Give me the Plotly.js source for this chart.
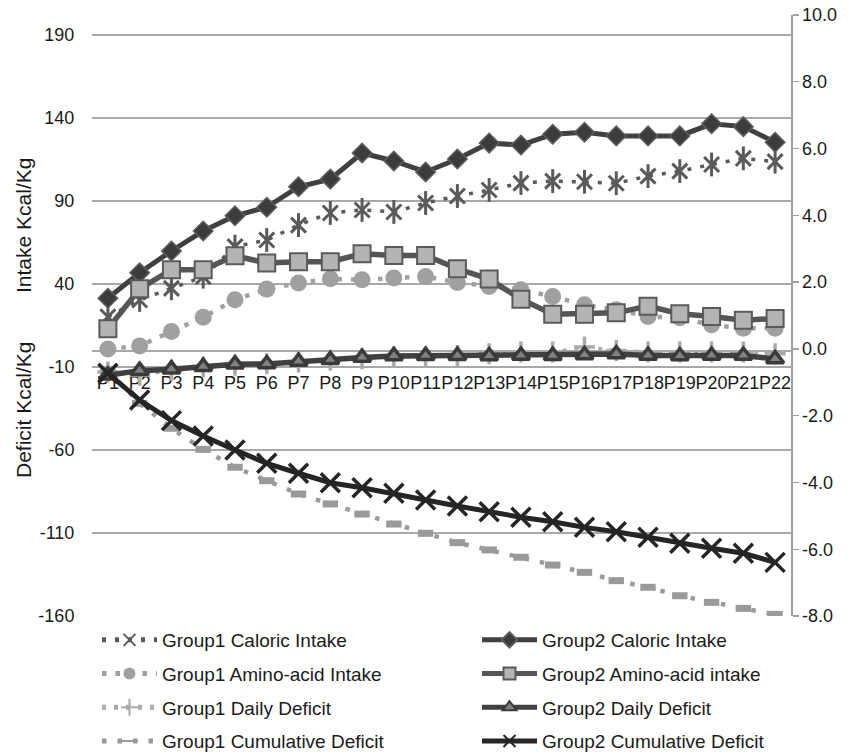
<!DOCTYPE html>
<html>
<head>
<meta charset="utf-8">
<script src="https://cdn.plot.ly/plotly-3.0.1.min.js"></script>
<style>
  html, body { margin: 0; padding: 0; background: #fff; }
  #chart { width: 856px; height: 756px; }
</style>
</head>
<body>
<div id="chart"></div>
<script>
const categories = ['P1','P2','P3','P4','P5','P6','P7','P8','P9','P10','P11','P12','P13','P14','P15','P16','P17','P18','P19','P20','P21','P22'];

// Intake (Kcal/Kg, left axis)
const g1Caloric = [20.3, 30.4, 37.4, 44.4, 62.5, 66.5, 75.5, 82.8, 84.6, 83.4, 88.8, 93.0, 96.6, 100.8, 102.0, 101.6, 100.7, 105.0, 108.0, 112.0, 115.7, 113.7];
const g2Caloric = [31.4, 46.8, 59.9, 71.9, 81.1, 86.2, 98.6, 103.2, 118.9, 114.1, 107.5, 115.3, 124.9, 123.7, 130.2, 131.4, 129.2, 129.2, 129.2, 136.5, 134.8, 125.4];

// Amino-acid intake (right axis)
const g1Amino = [0.0, 0.09, 0.52, 0.95, 1.47, 1.79, 1.97, 2.10, 2.07, 2.12, 2.17, 1.99, 1.87, 1.77, 1.57, 1.32, 1.17, 0.97, 0.93, 0.72, 0.62, 0.62];
const g2Amino = [0.60, 1.80, 2.37, 2.37, 2.79, 2.57, 2.61, 2.61, 2.85, 2.80, 2.80, 2.40, 2.09, 1.49, 1.04, 1.04, 1.08, 1.28, 1.05, 0.97, 0.86, 0.91];

// Deficits (Kcal/Kg, left axis)
const g1Daily = [-13, -15, -12, -10, -9, -8, -7, -6, -5, -4, -4, -3, -2, -1, -1, 2, 0, -1, -1, -1, -1, -2];
const g2Daily = [-15, -12.2, -11.3, -9.8, -8.3, -8.2, -6.7, -5.7, -4.3, -3.3, -3.2, -3.2, -3.4, -3.1, -3.2, -2.8, -2.2, -3.1, -3.4, -3.1, -3.1, -5.2];
const g1Cumulative = [-12, -31.9, -46.9, -59.6, -70.4, -78.5, -86.5, -92.5, -98.6, -104.6, -110.2, -115.8, -120.2, -124.6, -129.3, -133.7, -138.7, -142.7, -147.8, -151.8, -155.4, -159.0];
const g2Cumulative = [-13.8, -29.9, -42.3, -51.6, -60.0, -68.0, -74.0, -79.7, -82.7, -86.1, -90.1, -93.7, -97.2, -100.5, -103.2, -106.6, -109.2, -112.6, -116.2, -119.2, -122.2, -127.7];

const leftTicks = [-160, -110, -60, -10, 40, 90, 140, 190];
const rightTicks = [-8, -6, -4, -2, 0, 2, 4, 6, 8, 10];

const FONT = 'Liberation Sans, Arial, Helvetica, sans-serif';

const traces = [
  // ---- Column 1 legend (Group1) ----
  {
    name: 'Group1 Caloric Intake', x: categories, y: g1Caloric, yaxis: 'y',
    mode: 'lines+markers', legend: 'legend', legendgroup: 'a1',
    line: {color: '#5a5a5a', width: 3.5, dash: '4px,9px'},
    marker: {symbol: 'x-thin-open', size: 15, color: '#5a5a5a', line: {width: 3, color: '#5a5a5a'}}
  },
  {
    name: 'Group1 Caloric Intake', x: categories, y: g1Caloric, yaxis: 'y',
    mode: 'markers', legend: 'legend', legendgroup: 'a1', showlegend: false,
    marker: {symbol: 'line-ns-open', size: 17, color: '#5a5a5a', line: {width: 3, color: '#5a5a5a'}}
  },
  {
    name: 'Group1 Amino-acid Intake', x: categories, y: g1Amino, yaxis: 'y2',
    mode: 'lines+markers', legend: 'legend', legendgroup: 'a2',
    line: {color: '#a0a0a0', width: 4.5, dash: '4.5px,9px'},
    marker: {symbol: 'circle', size: 17, color: '#a0a0a0'}
  },
  {
    name: 'Group1 Daily Deficit', x: categories, y: g1Daily, yaxis: 'y',
    mode: 'lines+markers', legend: 'legend', legendgroup: 'a3',
    line: {color: '#aaaaaa', width: 3.5, dash: '4px,8px'},
    marker: {symbol: 'cross-thin-open', size: 15, color: '#aaaaaa', line: {width: 3.5, color: '#aaaaaa'}}
  },
  {
    name: 'Group1 Cumulative Deficit', x: categories, y: g1Cumulative, yaxis: 'y',
    mode: 'lines+markers', legend: 'legend', legendgroup: 'a4',
    line: {color: '#9a9a9a', width: 4.5, dash: '4.5px,11px'},
    marker: {symbol: 'line-ew-open', size: 11, color: '#9a9a9a', line: {width: 7, color: '#9a9a9a'}}
  },
  // ---- Column 2 legend (Group2) ----
  {
    name: 'Group2 Caloric Intake', x: categories, y: g2Caloric, yaxis: 'y',
    mode: 'lines+markers', legend: 'legend2', legendgroup: 'b1',
    line: {color: '#404040', width: 5},
    marker: {symbol: 'diamond', size: 15, color: '#3c3c3c', line: {width: 1.5, color: '#5e5e5e'}}
  },
  {
    name: 'Group2 Amino-acid intake', x: categories, y: g2Amino, yaxis: 'y2',
    mode: 'lines+markers', legend: 'legend2', legendgroup: 'b2',
    line: {color: '#555555', width: 5.5},
    marker: {symbol: 'square', size: 17, color: '#b4b4b4', line: {width: 2, color: '#5a5a5a'}}
  },
  {
    name: 'Group2 Daily Deficit', x: categories, y: g2Daily, yaxis: 'y',
    mode: 'lines+markers', legend: 'legend2', legendgroup: 'b3',
    line: {color: '#404040', width: 5.5},
    marker: {symbol: 'triangle-up', size: 15, color: '#808080', line: {width: 3.5, color: '#3a3a3a'}}
  },
  {
    name: 'Group2 Cumulative Deficit', x: categories, y: g2Cumulative, yaxis: 'y',
    mode: 'lines+markers', legend: 'legend2', legendgroup: 'b4',
    line: {color: '#252525', width: 5},
    marker: {symbol: 'x-thin-open', size: 19, color: '#252525', line: {width: 3.5, color: '#252525'}}
  }
];

const plotH = 601;
const leftMin = -160, leftMax = 202.05;
const zeroPos = (0 - leftMin) / (leftMax - leftMin);

const legendCommon = {
  orientation: 'v', traceorder: 'grouped', tracegroupgap: 6,
  font: {family: FONT, size: 19, color: '#1a1a1a'},
  bgcolor: 'rgba(0,0,0,0)', borderwidth: 0,
  itemwidth: 55, itemsizing: 'constant',
  xref: 'container', yref: 'container', xanchor: 'left', yanchor: 'top'
};

const layout = {
  width: 856, height: 756,
  margin: {l: 92, r: 65, t: 15, b: 140, autoexpand: false},
  paper_bgcolor: '#ffffff', plot_bgcolor: '#ffffff',
  font: {family: FONT, size: 18, color: '#1a1a1a'},
  showlegend: true,
  legend: Object.assign({}, legendCommon, {x: 97/856, y: 1 - 621/756}),
  legend2: Object.assign({}, legendCommon, {x: 477/856, y: 1 - 621/756}),
  xaxis: {
    type: 'category', range: [-0.5, 21.5], automargin: false,
    anchor: 'free', position: zeroPos,
    showline: true, linecolor: '#a8a8a8', linewidth: 1.3,
    showgrid: false, zeroline: false,
    ticks: 'outside', ticklen: 16, tickcolor: 'rgba(0,0,0,0)',
    tickfont: {family: FONT, size: 18, color: '#1a1a1a'},
    tickangle: 0, layer: 'below traces'
  },
  yaxis: {
    range: [leftMin, leftMax], automargin: false,
    tickmode: 'array', tickvals: leftTicks, ticktext: leftTicks.map(String),
    showgrid: true, gridcolor: '#a8a8a8', gridwidth: 1.3,
    showline: false, zeroline: false,
    ticks: 'outside', ticklen: 13, tickcolor: 'rgba(0,0,0,0)',
    tickfont: {family: FONT, size: 18, color: '#1a1a1a'}
  },
  yaxis2: {
    overlaying: 'y', side: 'right', anchor: 'x', automargin: false,
    range: [-8, 10],
    tickmode: 'array', tickvals: rightTicks, ticktext: rightTicks.map(v => v.toFixed(1)),
    showgrid: false, zeroline: false,
    showline: true, linecolor: '#a0a0a0', linewidth: 1.5,
    ticks: 'outside', ticklen: 6, tickcolor: '#a0a0a0', tickwidth: 1.3,
    tickfont: {family: FONT, size: 18, color: '#1a1a1a'}
  },
  yaxis3: {
    overlaying: 'y', side: 'right', anchor: 'x', automargin: false,
    range: [-8, 10],
    tickmode: 'array', tickvals: rightTicks,
    showgrid: false, zeroline: false, showline: false,
    ticks: 'inside', ticklen: 6, tickcolor: '#a0a0a0', tickwidth: 1.3,
    showticklabels: false
  },
  annotations: [
    {
      text: 'Intake Kcal/Kg', xref: 'paper', yref: 'paper',
      x: (23 - 92) / 699, y: (616 - 226) / plotH,
      xanchor: 'center', yanchor: 'middle', textangle: -90, showarrow: false,
      font: {family: FONT, size: 21, color: '#1a1a1a'}
    },
    {
      text: 'Deficit Kcal/Kg', xref: 'paper', yref: 'paper',
      x: (23 - 92) / 699, y: (616 - 410) / plotH,
      xanchor: 'center', yanchor: 'middle', textangle: -90, showarrow: false,
      font: {family: FONT, size: 21, color: '#1a1a1a'}
    }
  ]
};

Plotly.newPlot('chart', traces, layout, {displayModeBar: false, staticPlot: true});
</script>
</body>
</html>
